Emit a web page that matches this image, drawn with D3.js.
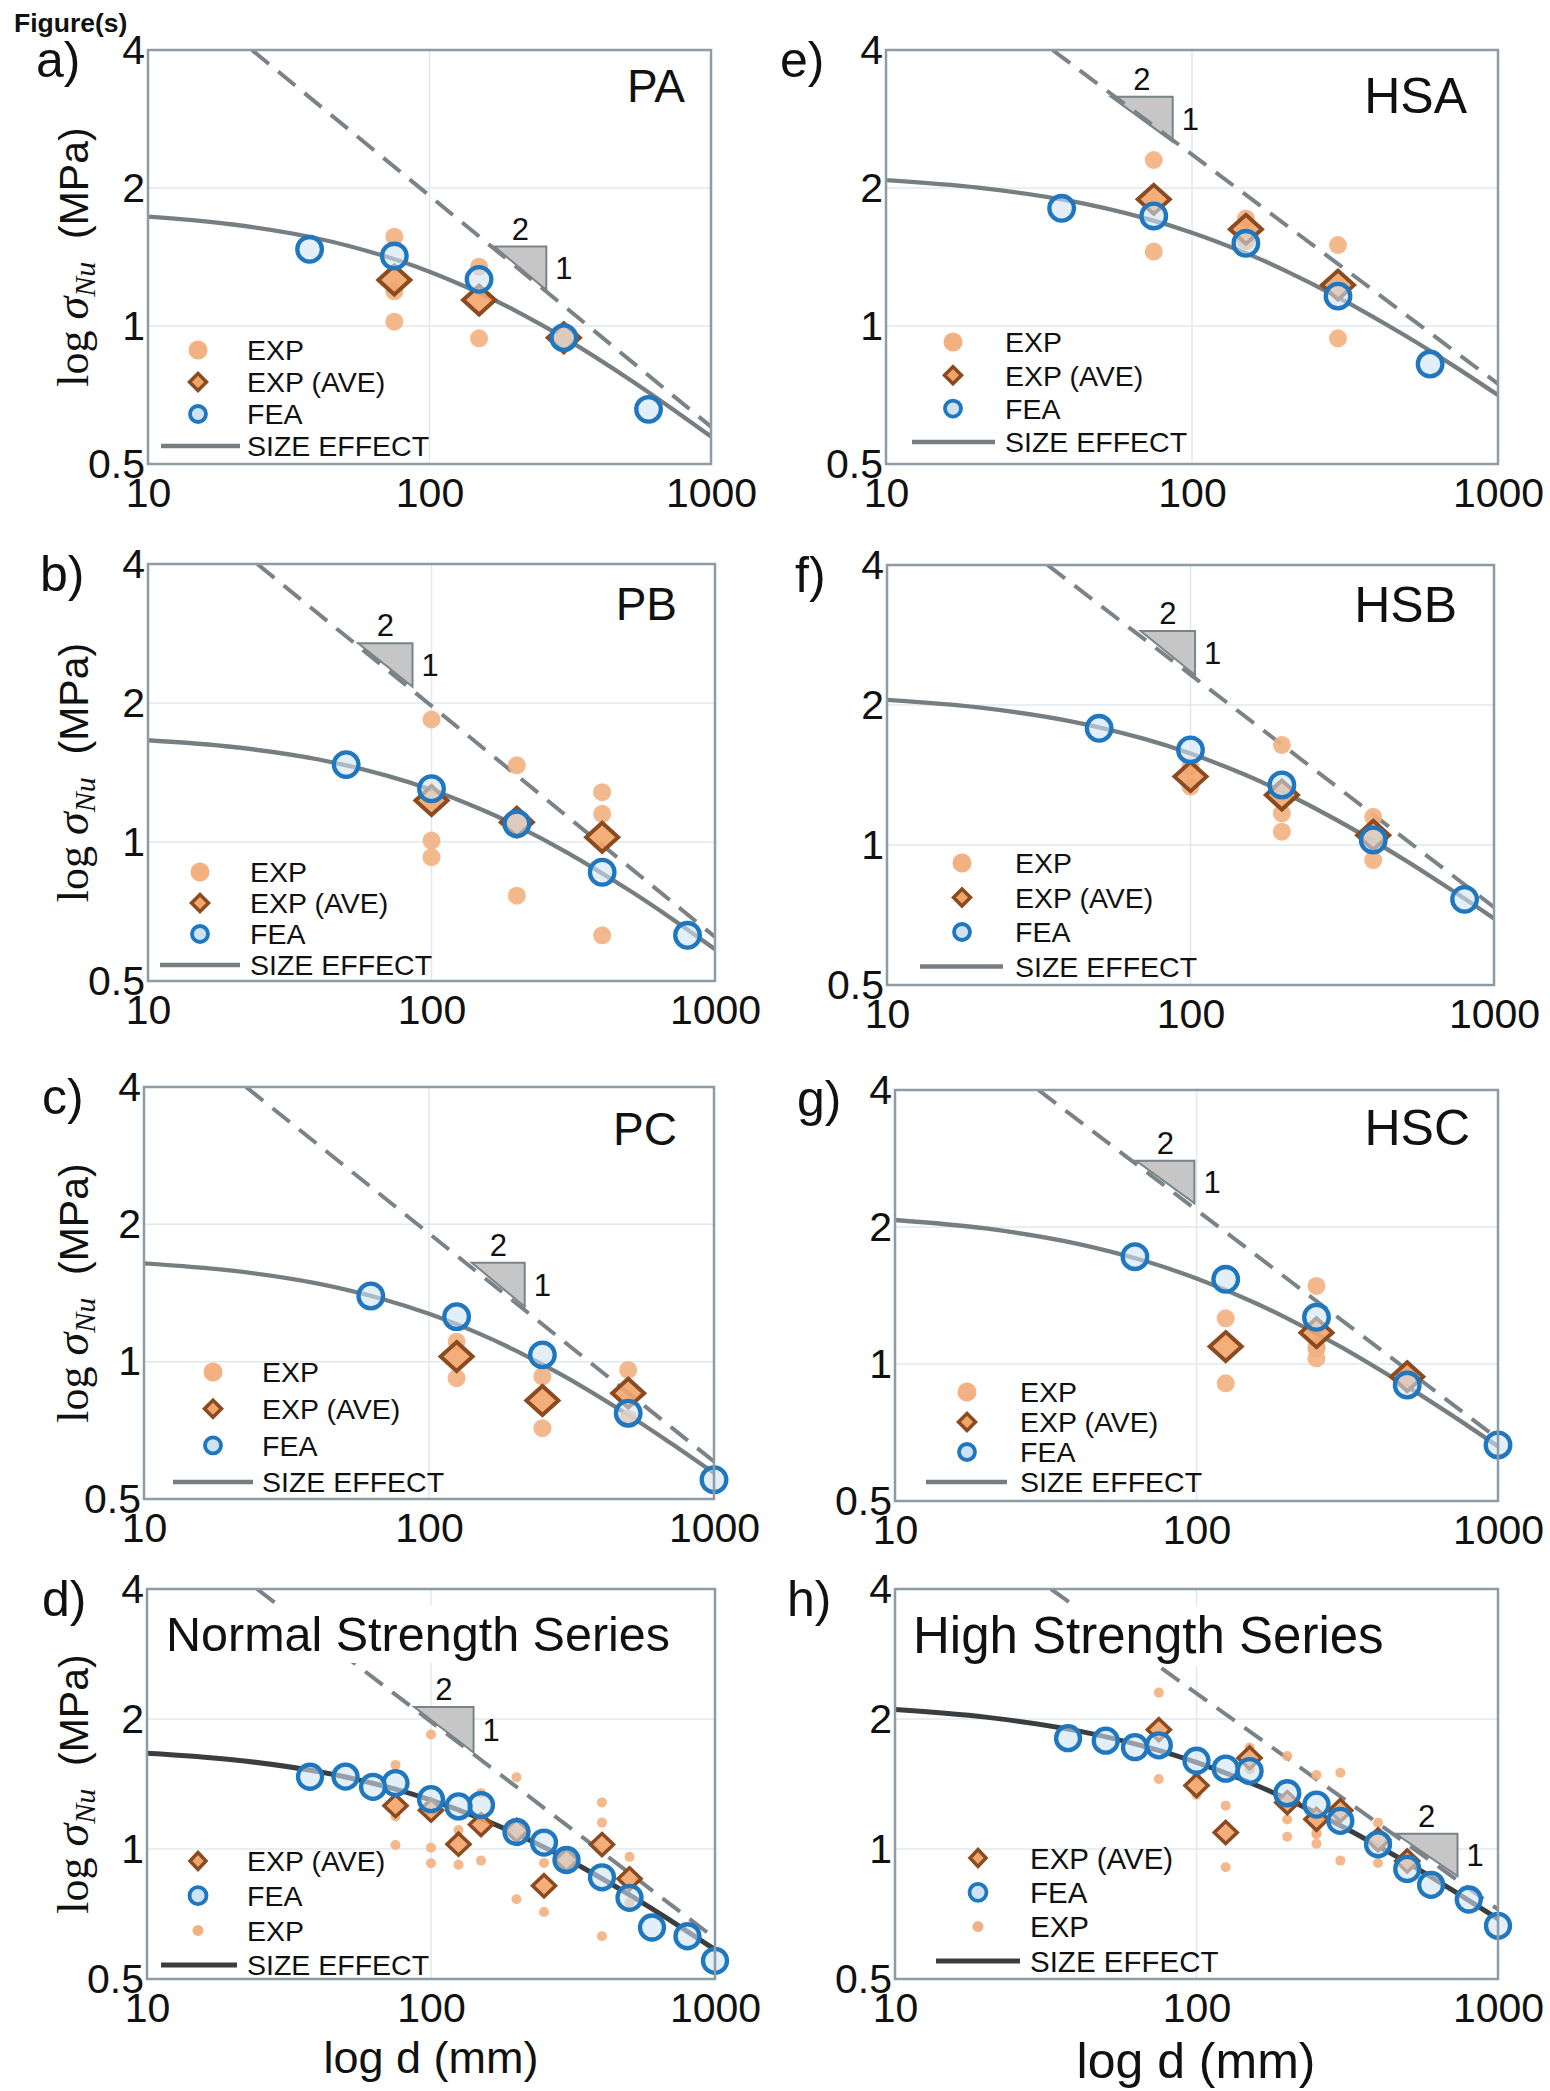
<!DOCTYPE html>
<html>
<head>
<meta charset="utf-8">
<script src="https://cdn.jsdelivr.net/npm/d3@7"></script>
<style>
  body { margin: 0; background: #fff; }
  text { font-family: "Liberation Sans", Arial, Helvetica, sans-serif; fill: #111; }
</style>
</head>
<body>
<svg id="fig" width="1550" height="2091"></svg>
<script>
// ---- data (d in mm, sigma_Nu in MPa) ----
const xTicks = [10, 100, 1000]
const yTicks = [0.5, 1, 2, 4]
const yTickLabels = ["0.5", "1", "2", "4"]

const dGrid = [10, 20, 40, 70, 100, 150, 200, 300, 500, 700, 1000]

// FEA specimen depths for series A, B, C
const dA = [37.5, 75, 150, 300, 600]
const dB = [50, 100, 200, 400, 800]
const dC = [62.5, 125, 250, 500, 1000]

// PA
const feaA = [1.470, 1.421, 1.264, 0.943, 0.658]
const aveDA = [75, 150, 300]
const aveA = [1.260, 1.139, 0.943]
const expDA = [75, 75, 75, 150, 150, 300, 300]
const expA = [1.566, 1.19, 1.022, 1.347, 0.940, 0.96, 0.93]
const selA = [1.732, 1.665, 1.552, 1.418, 1.314, 1.182, 1.083, 0.943, 0.773, 0.671, 0.574]
const asymA = [[23.4, 4], [1000, 0.603]]
const triA = [[170, 1.49], [260, 1.198]]

// PB
const feaB = [1.471, 1.304, 1.095, 0.860, 0.628]
const aveDB = [100, 200, 400]
const aveB = [1.230, 1.104, 1.024]
const expDB = [100, 100, 100, 200, 200, 200, 400, 400, 400]
const expB = [1.842, 1.007, 0.927, 1.466, 1.08, 0.765, 1.282, 1.151, 0.628]
const selB = [1.661, 1.606, 1.509, 1.391, 1.298, 1.176, 1.084, 0.950, 0.785, 0.684, 0.586]
const asymB = [[24.3, 4], [1000, 0.623]]
const triB = [[55.1, 2.694], [85.7, 2.169]]

// PC
const feaC = [1.393, 1.255, 1.035, 0.771, 0.551]
const aveDC = [125, 250, 500]
const aveC = [1.026, 0.822, 0.853]
const expDC = [125, 125, 250, 250, 500, 500]
const expC = [1.106, 0.920, 0.928, 0.715, 0.959, 0.750]
const selC = [1.643, 1.585, 1.486, 1.367, 1.273, 1.152, 1.060, 0.927, 0.764, 0.665, 0.570]
const asymC = [[22.8, 4], [1000, 0.604]]
const triC = [[141.3, 1.648], [216.7, 1.320]]

// HSA
const feaE = [1.806, 1.738, 1.515, 1.162, 0.826]
const aveE = [1.889, 1.625, 1.228]
const expDE = [75, 75, 150, 150, 300, 300]
const expE = [2.302, 1.453, 1.717, 1.53, 1.502, 0.940]
const selE = [2.081, 2.004, 1.874, 1.719, 1.598, 1.442, 1.324, 1.155, 0.951, 0.827, 0.707]
const asymE = [[35.0, 4], [1000, 0.748]]
const triE = [[54.3, 3.164], [86.5, 2.524]]

// HSB
const feaF = [1.782, 1.601, 1.346, 1.025, 0.764]
const aveF = [1.403, 1.281, 1.050]
const expDF = [100, 100, 200, 200, 200, 400, 400]
const expF = [1.47, 1.335, 1.641, 1.170, 1.068, 1.150, 0.928]
const selF = [2.051, 1.976, 1.847, 1.693, 1.573, 1.419, 1.303, 1.136, 0.935, 0.812, 0.695]
const asymF = [[33.8, 4], [1000, 0.735]]
const triF = [[68.5, 2.886], [103.5, 2.320]]

// HSC
const feaG = [1.721, 1.535, 1.267, 0.899, 0.664]
const aveG = [1.092, 1.172, 0.938]
const expDG = [125, 125, 250, 250, 250, 250, 500, 500]
const expG = [1.260, 0.907, 1.484, 1.09, 1.082, 1.029, 0.95, 0.925]
const selG = [2.072, 1.985, 1.839, 1.671, 1.541, 1.379, 1.260, 1.092, 0.892, 0.773, 0.659]
const asymG = [[29.9, 4], [1000, 0.685]]
const triG = [[63.1, 2.797], [98.4, 2.255]]

// whole-series fits
const selN = [1.667, 1.610, 1.511, 1.393, 1.298, 1.176, 1.083, 0.949, 0.783, 0.682, 0.585]
const asymN = [[24.4, 4], [1000, 0.621]]
const triN = [[87.3, 2.133], [141.2, 1.673]]
const selH = [2.104, 2.020, 1.880, 1.715, 1.587, 1.426, 1.305, 1.134, 0.930, 0.806, 0.689]
const asymH = [[32.9, 4], [1000, 0.725]]
const triH = [[458, 1.084], [734, 0.866]]

// ---- layout ----
const panels = [
  { key: "a", letter: "a)", lpos: [36, 77], box: [148, 711, 50, 464], ylab: true,
    name: { text: "PA", x: 685, y: 102, size: 46 },
    fea: [dA, feaA], ave: [aveDA, aveA], exp: [expDA, expA], sel: selA, asym: asymA, tri: triA,
    legend: { mx: 198, tx: 247, y0: 350, dy: 32, lx: [161, 240] } },
  { key: "b", letter: "b)", lpos: [40, 591], box: [148, 715, 564, 981], ylab: true,
    name: { text: "PB", x: 677, y: 620, size: 46 },
    fea: [dB, feaB], ave: [aveDB, aveB], exp: [expDB, expB], sel: selB, asym: asymB, tri: triB,
    legend: { mx: 200, tx: 250, y0: 872, dy: 31, lx: [160, 240] } },
  { key: "c", letter: "c)", lpos: [42, 1114], box: [144, 714, 1087, 1499], ylab: true,
    name: { text: "PC", x: 677, y: 1145, size: 46 },
    fea: [dC, feaC], ave: [aveDC, aveC], exp: [expDC, expC], sel: selC, asym: asymC, tri: triC,
    legend: { mx: 213, tx: 262, y0: 1372, dy: 36.7, lx: [173, 253] } },
  { key: "d", letter: "d)", lpos: [42, 1616], box: [147, 715, 1589, 1979], ylab: true, overview: true,
    title: { text: "Normal Strength Series", x: 166, y: 1651, size: 48.5 },
    xlab: { x: 431, y: 2073, size: 45 },
    fea: [[...dA, ...dB, ...dC], [...feaA, ...feaB, ...feaC]],
    ave: [[...aveDA, ...aveDB, ...aveDC], [...aveA, ...aveB, ...aveC]],
    exp: [[...expDA, ...expDB, ...expDC], [...expA, ...expB, ...expC]],
    sel: selN, asym: asymN, tri: triN,
    legend: { mx: 198, tx: 247, y0: 1861, dy: 34.7, lx: [161, 237] } },
  { key: "e", letter: "e)", lpos: [780, 77], box: [886, 1498, 50, 464],
    name: { text: "HSA", x: 1467, y: 113, size: 50 },
    fea: [dA, feaE], ave: [aveDA, aveE], exp: [expDE, expE], sel: selE, asym: asymE, tri: triE,
    legend: { mx: 953, tx: 1005, y0: 342, dy: 33.3, lx: [912, 995] } },
  { key: "f", letter: "f)", lpos: [795, 592], box: [887, 1494, 565, 985],
    name: { text: "HSB", x: 1457, y: 622, size: 50 },
    fea: [dB, feaF], ave: [aveDB, aveF], exp: [expDF, expF], sel: selF, asym: asymF, tri: triF,
    legend: { mx: 962, tx: 1015, y0: 863, dy: 34.5, lx: [920, 1003] } },
  { key: "g", letter: "g)", lpos: [797, 1116], box: [895, 1498, 1090, 1501],
    name: { text: "HSC", x: 1470, y: 1145, size: 50 },
    fea: [dC, feaG], ave: [aveDC, aveG], exp: [expDG, expG], sel: selG, asym: asymG, tri: triG,
    legend: { mx: 967, tx: 1020, y0: 1392, dy: 30, lx: [926, 1007] } },
  { key: "h", letter: "h)", lpos: [787, 1616], box: [895, 1498, 1589, 1979], overview: true,
    title: { text: "High Strength Series", x: 913, y: 1653, size: 51 },
    xlab: { x: 1196, y: 2078, size: 50 },
    fea: [[...dA, ...dB, ...dC], [...feaE, ...feaF, ...feaG]],
    ave: [[...aveDA, ...aveDB, ...aveDC], [...aveE, ...aveF, ...aveG]],
    exp: [[...expDE, ...expDF, ...expDG], [...expE, ...expF, ...expG]],
    sel: selH, asym: asymH, tri: triH,
    legend: { mx: 978, tx: 1030, y0: 1858, dy: 34.3, lx: [936, 1020] } },
]

const C = {
  frame: "#8d9ca4", grid: "#e1e8ed", curve: "#767e82", curveDark: "#3b3e40",
  dash: "#7a8387", triFill: "#c6c6c6", dot: "#f3b081", diaFill: "#f2a56a",
  diaStroke: "#8b4a1f", feaStroke: "#1f77c0", feaFill: "#cfe2f4",
}

const svg = d3.select("#fig")
const zip = (a, b) => a.map((v, i) => [v, b[i]])
const diamond = (hw, hh) => `M0,${-hh}L${hw},0L0,${hh}L${-hw},0Z`

svg.append("text").attr("x", 14).attr("y", 32)
  .attr("font-size", 26.5).attr("font-weight", "bold").text("Figure(s)")

function drawPanel(p) {
  const [x0, x1, y0, y1] = p.box
  const x = d3.scaleLog().domain([10, 1000]).range([x0, x1])
  const y = d3.scaleLog().domain([0.5, 4]).range([y1, y0])
  const g = svg.append("g")

  svg.append("clipPath").attr("id", "clip-" + p.key)
    .append("rect").attr("x", x0).attr("y", y0).attr("width", x1 - x0).attr("height", y1 - y0)
  const plot = g.append("g").attr("clip-path", `url(#clip-${p.key})`)

  // grid at the major decades
  plot.selectAll(null).data([100]).enter().append("line")
    .attr("x1", d => x(d)).attr("x2", d => x(d)).attr("y1", y0).attr("y2", y1)
    .attr("stroke", C.grid).attr("stroke-width", 1.5)
  plot.selectAll(null).data([1, 2]).enter().append("line")
    .attr("x1", x0).attr("x2", x1).attr("y1", d => y(d)).attr("y2", d => y(d))
    .attr("stroke", C.grid).attr("stroke-width", 1.5)

  // slope triangle 2:1
  const t = p.tri
  plot.append("path")
    .attr("d", `M${x(t[0][0])},${y(t[0][1])}L${x(t[1][0])},${y(t[0][1])}L${x(t[1][0])},${y(t[1][1])}Z`)
    .attr("fill", C.triFill).attr("stroke", C.dash).attr("stroke-width", 2)
  g.append("text").attr("x", (x(t[0][0]) + x(t[1][0])) / 2).attr("y", y(t[0][1]) - 7)
    .attr("text-anchor", "middle").attr("font-size", 31).text("2")
  g.append("text").attr("x", x(t[1][0]) + 9).attr("y", (y(t[0][1]) + y(t[1][1])) / 2 + 11)
    .attr("font-size", 31).text("1")

  const line = d3.line().x(d => x(d[0])).y(d => y(d[1]))
  plot.append("path").datum(p.asym).attr("d", line)
    .attr("fill", "none").attr("stroke", C.dash).attr("stroke-width", 4)
    .attr("stroke-dasharray", "22,12")
  plot.append("path").datum(zip(dGrid, p.sel)).attr("d", line.curve(d3.curveCatmullRom))
    .attr("fill", "none").attr("stroke", p.overview ? C.curveDark : C.curve)
    .attr("stroke-width", p.overview ? 5 : 4.3)

  // series title with white box (overview panels)
  if (p.title) {
    const tb = g.append("g")
    const tt = tb.append("text").attr("x", p.title.x).attr("y", p.title.y)
      .attr("font-size", p.title.size).text(p.title.text)
    const bb = tt.node().getBBox()
    tb.insert("rect", "text").attr("x", bb.x - 8).attr("y", bb.y - 2)
      .attr("width", bb.width + 16).attr("height", bb.height + 4).attr("fill", "#fff")
  }

  // markers
  const m = p.overview
    ? { dotR: 5, hw: 11.5, hh: 11, diaSW: 3.5, feaR: 12, feaSW: 4.3 }
    : { dotR: 9, hw: 16, hh: 14.5, diaSW: 4, feaR: 12.3, feaSW: 4.3 }
  g.selectAll(null).data(zip(...p.exp)).enter().append("circle")
    .attr("cx", d => x(d[0])).attr("cy", d => y(d[1])).attr("r", m.dotR)
    .attr("fill", C.dot).attr("fill-opacity", 0.9)
  g.selectAll(null).data(zip(...p.ave)).enter().append("path")
    .attr("transform", d => `translate(${x(d[0])},${y(d[1])})`).attr("d", diamond(m.hw, m.hh))
    .attr("fill", C.diaFill).attr("fill-opacity", 0.9)
    .attr("stroke", C.diaStroke).attr("stroke-width", m.diaSW)
  g.selectAll(null).data(zip(...p.fea)).enter().append("circle")
    .attr("cx", d => x(d[0])).attr("cy", d => y(d[1])).attr("r", m.feaR)
    .attr("fill", C.feaFill).attr("fill-opacity", 0.6)
    .attr("stroke", C.feaStroke).attr("stroke-width", m.feaSW)

  // frame
  g.append("rect").attr("x", x0).attr("y", y0).attr("width", x1 - x0).attr("height", y1 - y0)
    .attr("fill", "none").attr("stroke", C.frame).attr("stroke-width", 2.5)

  // axes (labels only)
  const ay = g.append("g").attr("transform", `translate(${x0},0)`)
    .call(d3.axisLeft(y).tickValues(yTicks).tickFormat(d => yTickLabels[yTicks.indexOf(d)])
      .tickSize(0).tickPadding(3))
  const ax = g.append("g").attr("transform", `translate(0,${y1})`)
    .call(d3.axisBottom(x).tickValues(xTicks).tickFormat(d3.format("d")).tickSize(0).tickPadding(14))
  for (const a of [ay, ax]) {
    a.select(".domain").remove()
    a.attr("font-size", 41).attr("font-family", null)
    a.selectAll("text").attr("fill", "#111")
  }

  // panel letter and name
  g.append("text").attr("x", p.lpos[0]).attr("y", p.lpos[1]).attr("font-size", 50).text(p.letter)
  if (p.name) {
    g.append("text").attr("x", p.name.x).attr("y", p.name.y).attr("text-anchor", "end")
      .attr("font-size", p.name.size).text(p.name.text)
  }

  // y label
  if (p.ylab) {
    const yl = g.append("text")
      .attr("transform", `translate(88,${(y0 + y1) / 2}) rotate(-90)`)
      .attr("text-anchor", "middle")
    yl.append("tspan").style("font-family", "'Liberation Serif', 'Times New Roman', serif")
      .attr("font-size", 44).text("log ")
    yl.append("tspan").style("font-family", "'Liberation Serif', 'Times New Roman', serif")
      .attr("font-size", 46).attr("font-style", "italic").text("σ")
    yl.append("tspan").style("font-family", "'Liberation Serif', 'Times New Roman', serif")
      .attr("font-size", 30).attr("font-style", "italic").attr("dy", 7).text("Nu")
    yl.append("tspan").attr("font-size", 41).attr("dy", -7).text("\u00a0\u00a0(MPa)")
  }

  // x label
  if (p.xlab) {
    g.append("text").attr("x", p.xlab.x).attr("y", p.xlab.y).attr("text-anchor", "middle")
      .attr("font-size", p.xlab.size).text("log d (mm)")
  }

  // legend
  const L = p.legend
  const rows = p.overview
    ? [["dia", "EXP (AVE)"], ["fea", "FEA"], ["dot", "EXP"], ["line", "SIZE EFFECT"]]
    : [["dot", "EXP"], ["dia", "EXP (AVE)"], ["fea", "FEA"], ["line", "SIZE EFFECT"]]
  const lg = g.append("g")
  rows.forEach(([kind, label], i) => {
    const ry = L.y0 + i * L.dy
    if (kind === "dot") {
      lg.append("circle").attr("cx", L.mx).attr("cy", ry).attr("r", p.overview ? 5.5 : 9.5)
        .attr("fill", C.dot)
    } else if (kind === "dia") {
      lg.append("path").attr("transform", `translate(${L.mx},${ry})`)
        .attr("d", p.overview ? diamond(8, 8.5) : diamond(8.5, 8.5))
        .attr("fill", C.diaFill).attr("stroke", C.diaStroke).attr("stroke-width", 3.5)
    } else if (kind === "fea") {
      lg.append("circle").attr("cx", L.mx).attr("cy", ry).attr("r", p.overview ? 8.5 : 8)
        .attr("fill", C.feaFill).attr("stroke", C.feaStroke).attr("stroke-width", 3.8)
    } else {
      lg.append("line").attr("x1", L.lx[0]).attr("x2", L.lx[1]).attr("y1", ry).attr("y2", ry)
        .attr("stroke", p.overview ? C.curveDark : C.curve).attr("stroke-width", p.overview ? 5 : 4.5)
    }
    lg.append("text").attr("x", L.tx).attr("y", ry).attr("dy", "0.36em")
      .attr("font-size", p.overview && p.key === "h" ? 29.5 : 28.5).text(label)
  })
}

panels.forEach(drawPanel)
</script>
</body>
</html>
